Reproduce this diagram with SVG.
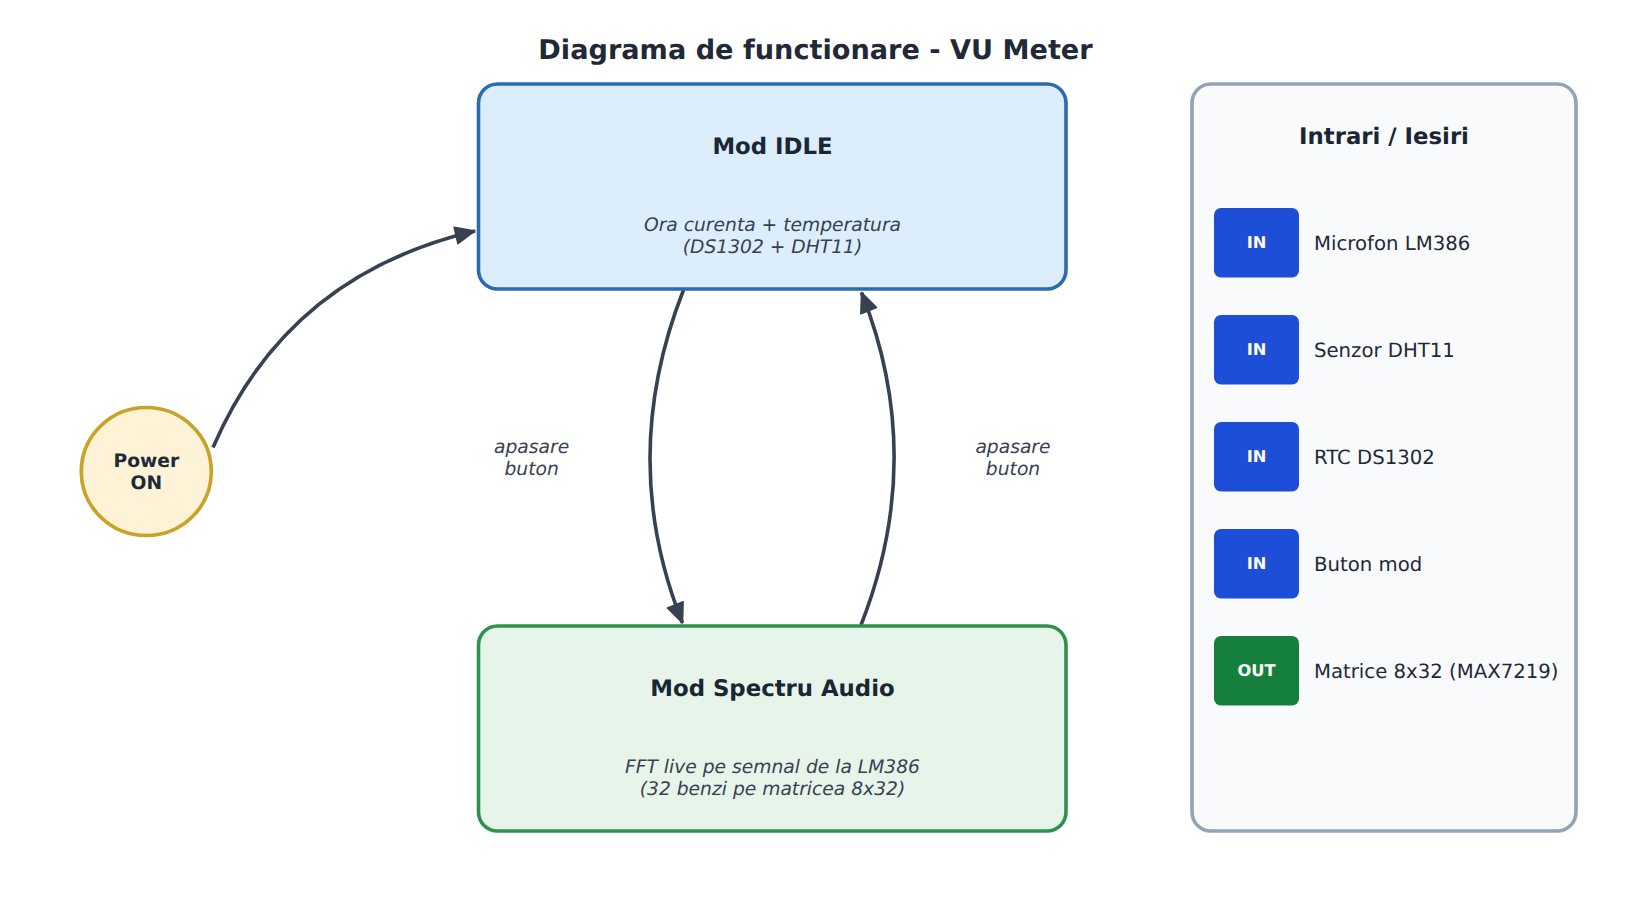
<svg xmlns="http://www.w3.org/2000/svg" width="1631" height="915" viewBox="0 0 1631 915">
<style>
text{font-family:"DejaVu Sans",sans-serif;text-anchor:middle;text-rendering:geometricPrecision}
.ttl{font-size:27.15px;font-weight:700;fill:#1f2937}
.h{font-size:22.8px;font-weight:700;fill:#1a2634}
.s{font-size:18.7px;font-style:italic;fill:#374151}
.b{font-size:16.3px;font-weight:700;fill:#fff}
.l{font-size:19.7px;fill:#1f2937;text-anchor:start}
.c{fill:none;stroke:#374151;stroke-width:3.6;marker-end:url(#a)}
.bi{fill:#1d4ed8}.bo{fill:#15803d}
</style>
<defs>
<marker id="a" markerUnits="userSpaceOnUse" markerWidth="26" markerHeight="24" refX="21" refY="10" orient="auto" viewBox="0 0 26 20" overflow="visible">
<path d="M1.500 1.500L21 10L1.500 18.500Z" fill="#374151" stroke="#374151" stroke-width="1.500" stroke-linejoin="round"/>
</marker>
</defs>
<rect width="1631" height="915" fill="#fff"/>
<text class="ttl" x="815.500" y="58.500">Diagrama de functionare - VU Meter</text>
<g id="connectors">
<path class="c" d="M213 447.500Q287 275 475 231"/>
<path class="c" d="M683.500 290Q617 459 682.500 623"/>
<path class="c" d="M861 625Q927 457 861.500 292.500"/>
</g>
<g id="power-on">
<ellipse cx="146.300" cy="471.500" rx="65" ry="64" fill="#fef3d6" stroke="#c9a227" stroke-width="3.700"/>
<text x="146.300" y="466.500" font-size="18.700" font-weight="700" fill="#1f2937">Power</text>
<text x="146.300" y="488.500" font-size="18.700" font-weight="700" fill="#1f2937">ON</text>
</g>
<g id="mod-idle">
<rect x="478.500" y="84" width="587.500" height="205" rx="19" fill="#dceefc" stroke="#2b6cb0" stroke-width="3.600"/>
<text class="h" x="772.500" y="153.500">Mod IDLE</text>
<text class="s" x="772.500" y="231.200">Ora curenta + temperatura</text>
<text class="s" x="772.500" y="253.200">(DS1302 + DHT11)</text>
</g>
<g id="mod-spectru">
<rect x="478.500" y="626" width="587.500" height="205" rx="19" fill="#e6f4ea" stroke="#2f9150" stroke-width="3.600"/>
<text class="h" x="772.500" y="695.800">Mod Spectru Audio</text>
<text class="s" x="772.500" y="773.200">FFT live pe semnal de la LM386</text>
<text class="s" x="772.500" y="795.200">(32 benzi pe matricea 8x32)</text>
</g>
<g id="label-stanga">
<text class="s" x="531.600" y="452.500">apasare</text>
<text class="s" x="531.600" y="474.500">buton</text>
</g>
<g id="label-dreapta">
<text class="s" x="1013" y="452.500">apasare</text>
<text class="s" x="1013" y="474.500">buton</text>
</g>
<g id="panel">
<rect x="1192" y="84" width="384" height="747" rx="19" fill="#f8fafc" stroke="#94a3b8" stroke-width="3.600"/>
<text class="h" x="1384" y="144">Intrari / Iesiri</text>
</g>
<g id="io-1"><rect class="bi" x="1214" y="208" width="85" height="69.500" rx="7"/><text class="b" x="1256.500" y="248.300">IN</text><text class="l" x="1314" y="250">Microfon LM386</text></g>
<g id="io-2"><rect class="bi" x="1214" y="315" width="85" height="69.500" rx="7"/><text class="b" x="1256.500" y="355.300">IN</text><text class="l" x="1314" y="357">Senzor DHT11</text></g>
<g id="io-3"><rect class="bi" x="1214" y="422" width="85" height="69.500" rx="7"/><text class="b" x="1256.500" y="462.300">IN</text><text class="l" x="1314" y="464">RTC DS1302</text></g>
<g id="io-4"><rect class="bi" x="1214" y="529" width="85" height="69.500" rx="7"/><text class="b" x="1256.500" y="569.300">IN</text><text class="l" x="1314" y="571">Buton mod</text></g>
<g id="io-5"><rect class="bo" x="1214" y="636" width="85" height="69.500" rx="7"/><text class="b" x="1256.500" y="676.300">OUT</text><text class="l" x="1314" y="678">Matrice 8x32 (MAX7219)</text></g>
</svg>
